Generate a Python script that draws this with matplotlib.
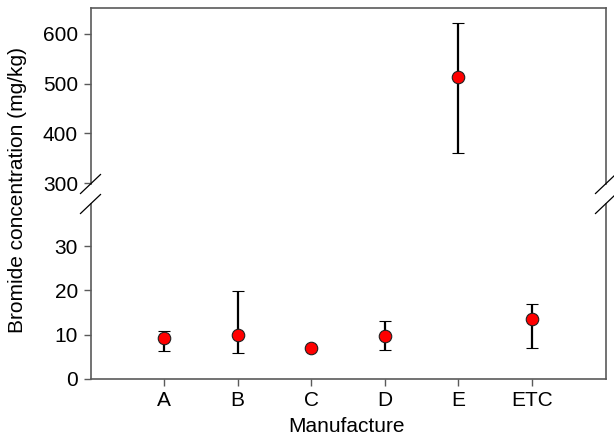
import numpy as np
import matplotlib
matplotlib.use('Agg')
import matplotlib.pyplot as plt
from matplotlib.lines import Line2D

plt.rcParams['font.family'] = ['Liberation Sans', 'DejaVu Sans']

# data
makers = ['A', 'B', 'C', 'D', 'E', 'ETC']
means = [9.2, 10.0, 7.0, 9.8, 514.0, 13.6]
upper = [10.8, 19.8, 7.0, 13.0, 621.0, 17.0]
lower = [6.4, 5.9, 7.0, 6.6, 361.0, 7.0]

x = np.arange(1, len(makers) + 1)
means = np.array(means)
err = np.array([means - np.array(lower), np.array(upper) - means])

W, H = 614, 438
fig = plt.figure(figsize=(W / 100, H / 100), dpi=100)

def px_axes(left, top, right, bottom):
    return fig.add_axes([left / W, 1 - bottom / H, (right - left) / W, (bottom - top) / H])

ax_top = px_axes(90.5, 8, 605.5, 184)
ax_bot = px_axes(90.5, 204, 605.5, 379)

spine_col = '#5a5a5a'
fs = 15

for ax in (ax_top, ax_bot):
    ax.errorbar(x, means, yerr=err, fmt='o', color='black', ecolor='black',
                elinewidth=1.6, capsize=4.5, capthick=1.6,
                markerfacecolor='red', markeredgecolor='#202020', markersize=9,
                markeredgewidth=0.8, zorder=3)
    ax.set_xlim(0, 7)
    for s in ax.spines.values():
        s.set_color(spine_col)
        s.set_linewidth(1.2)
    ax.tick_params(axis='both', direction='out', length=5, width=1.0,
                   colors='black', labelsize=fs, pad=4)
    ax.tick_params(axis='both', color=spine_col)

ax_top.set_ylim(298, 652)
ax_top.set_yticks([300, 400, 500, 600])
ax_top.spines['bottom'].set_visible(False)
ax_top.set_xticks([])

ax_bot.set_ylim(0, 39.5)
ax_bot.set_yticks([0, 10, 20, 30])
ax_bot.spines['top'].set_visible(False)
ax_bot.set_xticks(x)
ax_bot.set_xticklabels(makers)

# break marks on both sides
for xc in (90.5, 605.5):
    for yc in (184, 204):
        fig.add_artist(Line2D([(xc - 10) / W, (xc + 10) / W],
                              [1 - (yc + 9.5) / H, 1 - (yc - 9.5) / H],
                              color='black', linewidth=0.9))

fig.text(18 / W, 1 - 190 / H, 'Bromide concentration (mg/kg)', rotation=90,
         ha='center', va='center', fontsize=fs)
fig.text(347 / W, 1 - 427 / H, 'Manufacture', ha='center', va='center', fontsize=fs)

fig.savefig('out.png', dpi=100)
